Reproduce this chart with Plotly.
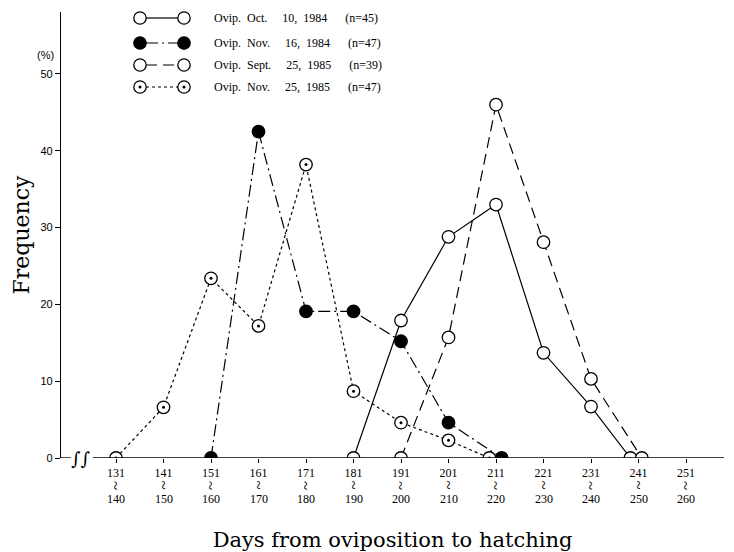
import plotly.graph_objects as go

# ---------------- data ----------------
range_lo = [131, 141, 151, 161, 171, 181, 191, 201, 211, 221, 231, 241, 251]
range_hi = [140, 150, 160, 170, 180, 190, 200, 210, 220, 230, 240, 250, 260]

oct10_1984 = [None, None, None, None, None, 0, 17.9, 28.8, 33.0, 13.7, 6.7, 0, None]
nov16_1984 = [None, None, 0, 42.5, 19.1, 19.1, 15.2, 4.6, 0, None, None, None, None]
sep25_1985 = [None, None, None, None, None, None, 0, 15.7, 46.0, 28.1, 10.3, 0, None]
nov25_1985 = [0, 6.6, 23.4, 17.2, 38.2, 8.7, 4.6, 2.3, 0, None, None, None, None]

NB = "\u00a0"
legend_words = [
    ["Ovip.", "Oct.", "10,", "1984", "(n=45)"],
    ["Ovip.", "Nov.", "16,", "1984", "(n=47)"],
    ["Ovip.", "Sept.", "25,", "1985", "(n=39)"],
    ["Ovip.", "Nov.", "25,", "1985", "(n=47)"],
]
y_ticks = [0, 10, 20, 30, 40, 50]

# ---------------- layout helpers ----------------
W, H = 734, 552
L, R, T, B = 61, 10, 12, 94
PW, PH = W - L - R, H - T - B


def px(x):
    return (x - L) / PW


def py(y):
    return (H - B - y) / PH


SERIF = "Liberation Serif, Times New Roman, serif"
WSERIF = "DejaVu Serif, serif"
SANS = "Liberation Sans, Arial, sans-serif"

gaps = [2, 5, 2, 6]


def legend_text(words):
    out = words[0]
    for g, w in zip(gaps, words[1:]):
        out += NB * g + w
    return out


series_names = [legend_text(w) for w in legend_words]

styles = [
    dict(dash="solid", kind="open"),
    dict(dash="12px,4px,2px,4px", kind="filled"),
    dict(dash="11px,6px", kind="open"),
    dict(dash="3px,3px", kind="dot"),
]
# small horizontal display nudges where zero points overlap
nudge = {(1, 8): 0.12, (3, 8): -0.14, (0, 11): -0.17, (2, 11): 0.07}

all_series = [oct10_1984, nov16_1984, sep25_1985, nov25_1985]

fig = go.Figure()
pts = []
for k, vals in enumerate(all_series):
    xs = [i + nudge.get((k, i), 0) for i, v in enumerate(vals) if v is not None]
    ys = [v for v in vals if v is not None]
    pts.append((xs, ys))
    fig.add_trace(go.Scatter(
        x=xs, y=ys, mode="lines", name=series_names[k], showlegend=False,
        line=dict(color="black", width=1.2, dash=styles[k]["dash"]),
        hoverinfo="skip"))

for k, (xs, ys) in enumerate(pts):
    kind = styles[k]["kind"]
    fig.add_trace(go.Scatter(
        x=xs, y=ys, mode="markers", name=series_names[k], showlegend=False,
        marker=dict(symbol="circle", size=12.5,
                    color="black" if kind == "filled" else "white",
                    line=dict(color="black", width=1.3))))
    if kind == "dot":
        fig.add_trace(go.Scatter(
            x=xs, y=ys, mode="markers", showlegend=False, hoverinfo="skip",
            marker=dict(symbol="circle", size=3, color="black", line=dict(width=0))))

shapes = []
# x axis line (broken)
shapes.append(dict(type="line", xref="paper", yref="y", x0=px(93), x1=1, y0=0, y1=0,
                   line=dict(color="black", width=1.3)))
shapes.append(dict(type="line", xref="paper", yref="y", x0=0, x1=px(71), y0=0, y1=0,
                   line=dict(color="black", width=1.3)))

# hand-drawn legend
leg_rows = [18, 43, 65, 87]
for k, yr in enumerate(leg_rows):
    kind = styles[k]["kind"]
    shapes.append(dict(type="line", xref="paper", yref="paper",
                       x0=px(146), x1=px(178), y0=py(yr), y1=py(yr),
                       line=dict(color="black", width=1.2, dash=styles[k]["dash"])))
    for cx in (140, 184):
        shapes.append(dict(type="circle", xref="paper", yref="paper",
                           xsizemode="pixel", ysizemode="pixel",
                           xanchor=px(cx), yanchor=py(yr),
                           x0=-6.2, x1=6.2, y0=-6.2, y1=6.2,
                           fillcolor="black" if kind == "filled" else "white",
                           line=dict(color="black", width=1.3)))
        if kind == "dot":
            shapes.append(dict(type="circle", xref="paper", yref="paper",
                               xsizemode="pixel", ysizemode="pixel",
                               xanchor=px(cx), yanchor=py(yr),
                               x0=-1.5, x1=1.5, y0=-1.5, y1=1.5,
                               fillcolor="black", line=dict(color="black", width=0)))

annotations = []
for k, yr in enumerate(leg_rows):
    annotations.append(dict(xref="paper", yref="paper", x=px(212), y=py(yr),
                            xanchor="left", yanchor="middle", showarrow=False,
                            text=series_names[k], font=dict(family=SERIF, size=12, color="black")))

# lower lines of the category labels
for i, hi in enumerate(range_hi):
    annotations.append(dict(xref="x", yref="paper", x=i, y=py(485), xanchor="center",
                            yanchor="middle", showarrow=False, text="~", textangle=90,
                            font=dict(family=SERIF, size=17, color="black")))
    annotations.append(dict(xref="x", yref="paper", x=i, y=py(498.5), xanchor="center",
                            yanchor="middle", showarrow=False, text=str(hi),
                            font=dict(family=SERIF, size=12, color="black")))

# axis break mark
annotations.append(dict(xref="paper", yref="paper", x=px(80), y=py(459), xanchor="center",
                        yanchor="middle", showarrow=False, text="\u222b\u222b",
                        font=dict(family="DejaVu Serif", size=18, color="black")))
# percent unit
annotations.append(dict(xref="paper", yref="paper", x=px(45), y=py(55), xanchor="center",
                        yanchor="middle", showarrow=False, text="(%)",
                        font=dict(family=SANS, size=11, color="black")))

fig.update_layout(
    template="none",
    width=W, height=H,
    margin=dict(l=L, r=R, t=T, b=B, pad=0),
    paper_bgcolor="white", plot_bgcolor="white",
    showlegend=False,
    shapes=shapes, annotations=annotations,
    xaxis=dict(range=[(L - 116) / 47.5, (W - R - 116) / 47.5],
               tickmode="array", tickvals=list(range(len(range_lo))),
               ticktext=[str(v) for v in range_lo],
               tickfont=dict(family=SERIF, size=12, color="black"),
               ticks="outside", ticklen=4, tickcolor="black", tickwidth=1,
               showline=False, showgrid=False, zeroline=False, automargin=False,
               title=dict(text="Days from oviposition to hatching",
                          font=dict(family=WSERIF, size=21, color="black"), standoff=52)),
    yaxis=dict(range=[0, 58.07], tickmode="array", tickvals=y_ticks,
               tickfont=dict(family=SANS, size=11, color="black"),
               ticks="outside", ticklen=5, tickcolor="black", tickwidth=1,
               showline=True, linecolor="black", linewidth=1.3,
               showgrid=False, zeroline=False, automargin=False,
               title=dict(text="Frequency", font=dict(family=WSERIF, size=22, color="black"),
                          standoff=4)),
)

fig.write_html("out.html", config={"displayModeBar": False},
               post_script="document.body.style.margin='0px';document.body.style.padding='0px';")
